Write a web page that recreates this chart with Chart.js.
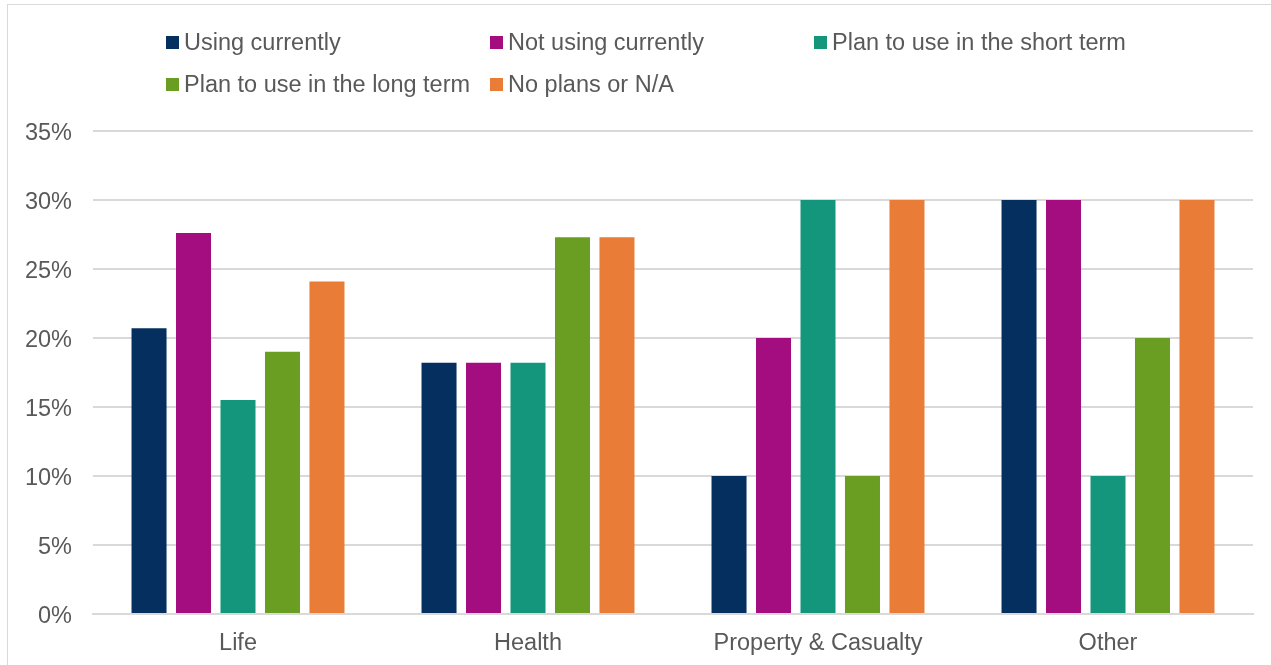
<!DOCTYPE html>
<html>
<head>
<meta charset="utf-8">
<script src="https://cdn.jsdelivr.net/npm/chart.js@4"></script>
<style>
  html, body { margin: 0; padding: 0; background: #fff; }
  #wrap { position: relative; width: 1271px; height: 665px; overflow: hidden; }
  #frame { position: absolute; left: 7px; top: 4px; width: 1300px; height: 700px; border: 1px solid #d9d9d9; box-sizing: border-box; pointer-events: none; }
  #legend { position: absolute; left: 0; top: 0; font-family: "Liberation Sans", Arial, sans-serif; font-size: 23.5px; color: #595959; }
  .item { position: absolute; white-space: nowrap; height: 28px; line-height: 28px; }
  .box { position: absolute; left: 0; top: 8px; width: 13px; height: 13px; }
  .lbl { position: absolute; left: 18px; top: 0; }
  canvas { position: absolute; left: 0; top: 0; }
</style>
</head>
<body>
<div id="wrap">
  <canvas id="c" width="1271" height="665"></canvas>
  <div id="frame"></div>
  <div id="legend"></div>
</div>
<script>
const categories = ["Life", "Health", "Property & Casualty", "Other"];
const seriesNames = ["Using currently", "Not using currently", "Plan to use in the short term", "Plan to use in the long term", "No plans or N/A"];
const usingCurrently   = [20.7, 18.2, 10, 30];
const notUsingCurrently = [27.6, 18.2, 20, 30];
const planShortTerm    = [15.5, 18.2, 30, 10];
const planLongTerm     = [19.0, 27.3, 10, 20];
const noPlans          = [24.1, 27.3, 30, 30];
const yTicks = [0, 5, 10, 15, 20, 25, 30, 35];
const colors = ["#052F5F", "#A30D7F", "#14967C", "#6A9E22", "#E97D38"];

const seriesValues = [usingCurrently, notUsingCurrently, planShortTerm, planLongTerm, noPlans];
const FONT = "'Liberation Sans', Arial, sans-serif";

const chart = new Chart(document.getElementById('c'), {
  type: 'bar',
  data: {
    labels: categories,
    datasets: seriesNames.map((n, i) => ({
      label: n,
      data: seriesValues[i],
      backgroundColor: colors[i],
      borderWidth: 0,
      categoryPercentage: 0.767,
      barPercentage: 0.787
    }))
  },
  options: {
    responsive: false,
    animation: false,
    layout: { padding: { top: 131, left: 0, right: 18, bottom: 0 } },
    plugins: { legend: { display: false }, tooltip: { enabled: false } },
    scales: {
      x: {
        grid: { display: false, drawTicks: false },
        border: { color: '#d9d9d9', width: 2 },
        ticks: { color: '#595959', font: { family: FONT, size: 23.5 }, padding: 15 },
        afterFit: (s) => { s.height = 51; }
      },
      y: {
        min: 0, max: 35,
        afterBuildTicks: (s) => { s.ticks = yTicks.map(v => ({ value: v })); },
        grid: { color: '#d9d9d9', lineWidth: 2, drawTicks: false },
        border: { display: false },
        ticks: { color: '#595959', font: { family: FONT, size: 23.5 }, padding: 21, labelOffset: 3, callback: (v) => v + '%' },
        afterFit: (s) => { s.width = 93; }
      }
    }
  }
});

// HTML legend built from chart datasets
const legend = document.getElementById('legend');
const colX = [166, 490, 814];
const rowY = [28, 70];
chart.data.datasets.forEach((ds, i) => {
  const it = document.createElement('div');
  it.className = 'item';
  it.style.left = colX[i % 3] + 'px';
  it.style.top = rowY[Math.floor(i / 3)] + 'px';
  const b = document.createElement('div');
  b.className = 'box';
  b.style.background = ds.backgroundColor;
  const t = document.createElement('div');
  t.className = 'lbl';
  t.textContent = ds.label;
  it.appendChild(b); it.appendChild(t);
  legend.appendChild(it);
});
</script>
</body>
</html>
